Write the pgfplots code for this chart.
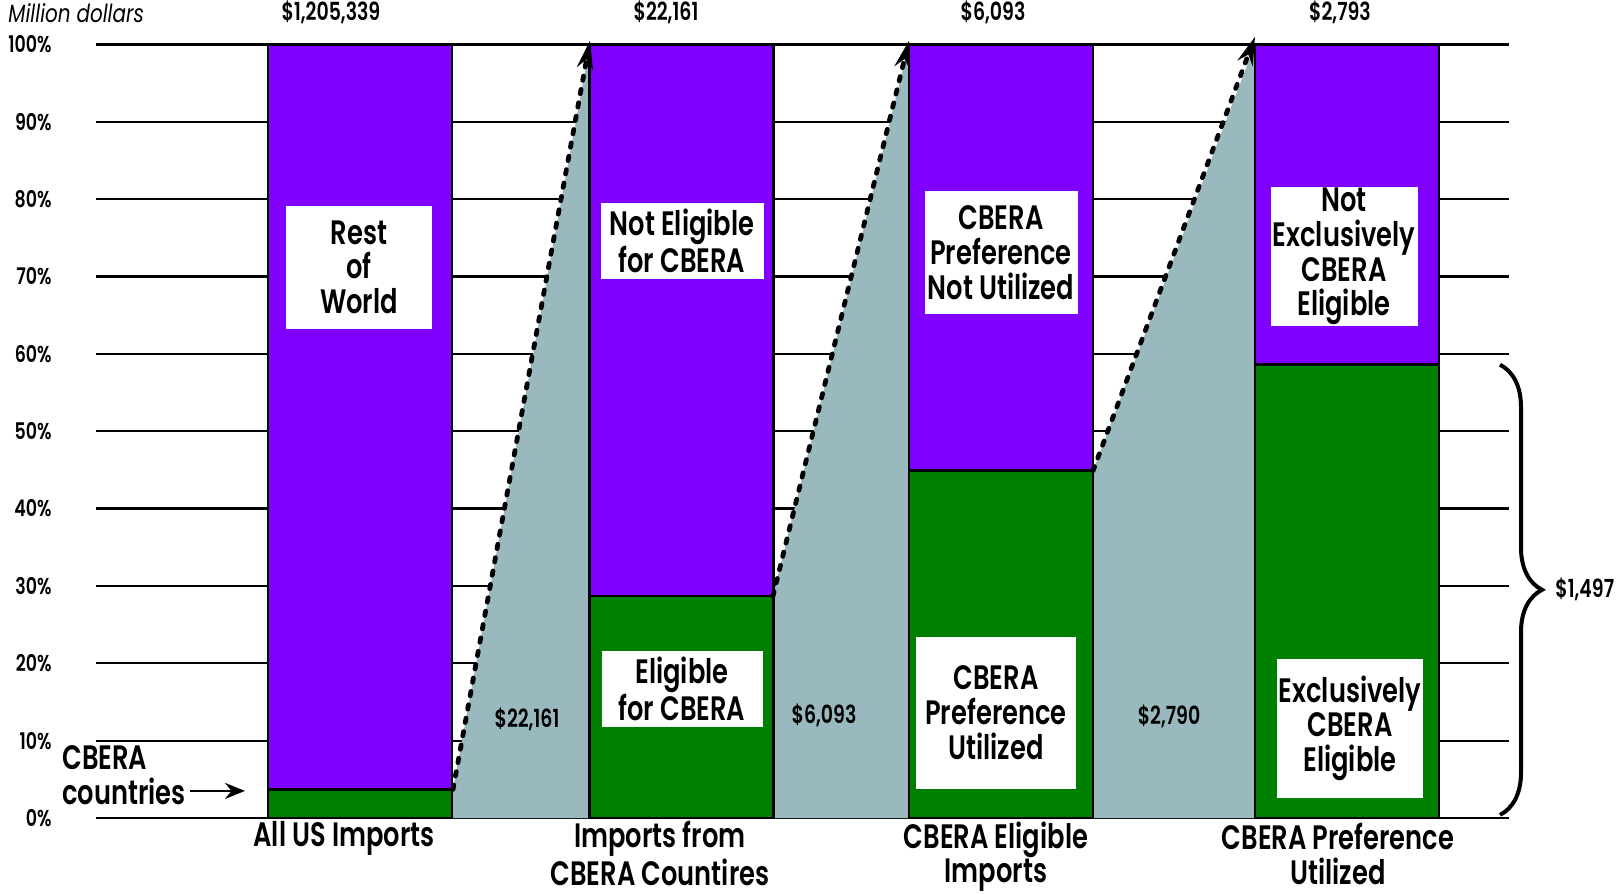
\documentclass[border=0pt]{standalone}
\usepackage{fontspec}
\setmainfont{Poppins SemiBold}[FakeStretch=0.76]
\newfontfamily\plainfam{Poppins}[FakeStretch=0.8]
\usepackage{pgfplots}
\pgfplotsset{compat=1.18}
\usetikzlibrary{arrows.meta,decorations.pathreplacing}

\definecolor{cbpurple}{RGB}{128,0,255}
\definecolor{cbgreen}{RGB}{0,128,0}
\definecolor{cbgrey}{RGB}{153,185,190}

\newcommand{\biglab}{\fontsize{17}{17.5}\selectfont}
\newcommand{\midlab}{\fontsize{12.5}{14}\selectfont}

\begin{document}
\begin{tikzpicture}
\path[use as bounding box] (-48bp,-38bp) rectangle (762.5bp,409bp);
\begin{axis}[
  at={(0,0)}, anchor=south west,
  width=706.5bp, height=386.75bp, scale only axis,
  xmin=96, xmax=1509, ymin=0, ymax=100,
  clip=false,
  axis line style={draw=none},
  xtick=\empty,
  ytick={0,10,...,100},
  yticklabels={0\%,10\%,20\%,30\%,40\%,50\%,60\%,70\%,80\%,90\%,100\%},
  ytick style={draw=none},
  yticklabel style={anchor=east, inner sep=0pt, xshift=-22bp, font=\fontsize{11.5}{12}\selectfont},
  ymajorgrids,
  major grid style={black, line width=1.1bp},
]
% grey flows between the bars
\addplot[fill=cbgrey, draw=none] coordinates {(453,3.7) (590,100)} \closedcycle;
\addplot[fill=cbgrey, draw=none] coordinates {(773,28.7) (909,100)} \closedcycle;
\addplot[fill=cbgrey, draw=none] coordinates {(1093,44.9) (1255,100)} \closedcycle;

% full bars (purple) and CBERA share (green)
\addplot[ybar, bar width=184, bar shift=0pt, fill=cbpurple, draw=black, line width=1.3bp]
  coordinates {(360,100) (681.5,100) (1001,100) (1347,100)};
\addplot[ybar, bar width=184, bar shift=0pt, fill=cbgreen, draw=black, line width=1.3bp]
  coordinates {(360,3.7) (681.5,28.7) (1001,44.9) (1347,58.6)};

% dotted arrows
\addplot[line width=2.4bp, line cap=round, dash pattern=on 2.2bp off 4.6bp,
  -{Stealth[length=14bp, width=8bp]}] coordinates {(453,3.7) (590,100.5)};
\addplot[line width=2.4bp, line cap=round, dash pattern=on 2.2bp off 4.6bp,
  -{Stealth[length=14bp, width=8bp]}] coordinates {(773,28.7) (909,100.5)};
\addplot[line width=2.4bp, line cap=round, dash pattern=on 2.2bp off 4.6bp,
  -{Stealth[length=14bp, width=8bp]}] coordinates {(1093,44.9) (1255,101)};

% labels in boxes
\node[fill=white, minimum width=73bp, minimum height=61.5bp, inner sep=0pt, align=center, font=\biglab]
  at (axis cs:359,71.2) {Rest\\of\\World};
\node[fill=white, minimum width=81.5bp, minimum height=38bp, inner sep=0pt, align=center, font=\biglab]
  at (axis cs:682,74.6) {Not Eligible\\for CBERA};
\node[fill=white, minimum width=76.5bp, minimum height=61.5bp, inner sep=0pt, align=center, font=\biglab]
  at (axis cs:1001,73.1) {CBERA\\Preference\\Not Utilized};
\node[fill=white, minimum width=73.5bp, minimum height=69.5bp, inner sep=0pt, align=center, font=\biglab]
  at (axis cs:1344,72.6) {Not\\Exclusively\\CBERA\\Eligible};
\node[fill=white, minimum width=80.5bp, minimum height=38bp, inner sep=0pt, align=center, font=\biglab]
  at (axis cs:682,16.7) {Eligible\\for CBERA};
\node[fill=white, minimum width=80bp, minimum height=76bp, inner sep=0pt, align=center, font=\biglab]
  at (axis cs:996,13.6) {CBERA\\Preference\\Utilized};
\node[fill=white, minimum width=73bp, minimum height=69.5bp, inner sep=0pt, align=center, font=\biglab]
  at (axis cs:1350,11.6) {Exclusively\\CBERA\\Eligible};

% values in grey flows
\node[font=\midlab] at (axis cs:527,12.7) {\$22,161};
\node[font=\midlab] at (axis cs:824,13.3) {\$6,093};
\node[font=\midlab] at (axis cs:1169,13.1) {\$2,790};

% totals above the bars
\node[font=\midlab] at (axis cs:331,104.1) {\$1,205,339};
\node[font=\midlab] at (axis cs:666,104.1) {\$22,161};
\node[font=\midlab] at (axis cs:993,104.1) {\$6,093};
\node[font=\midlab] at (axis cs:1340,104.1) {\$2,793};
\node[anchor=west, inner sep=0pt, font=\fontsize{12.5}{14}\selectfont\plainfam\itshape] at (axis cs:8,104.1) {Million dollars};

% category labels
\node[align=center, font=\biglab] at (axis cs:344,-2.6) {All US Imports};
\node[align=center, font=\biglab] at (axis cs:660,-4.6) {Imports from\\CBERA Countires};
\node[align=center, font=\biglab] at (axis cs:996,-5.0) {CBERA Eligible\\Imports};
\node[align=center, font=\biglab] at (axis cs:1338,-4.6) {CBERA Preference\\Utilized};

% CBERA countries pointer
\node[anchor=west, align=left, inner sep=0pt, font=\biglab] at (axis cs:62,5.5) {CBERA\\countries};
\draw[line width=1bp, -{Stealth[length=10bp, width=8bp]}] (axis cs:190,3.5) -- (axis cs:245,3.5);

% brace for the utilized share
\draw[decorate, decoration={brace, amplitude=21bp}, line width=2bp]
  (axis cs:1500,58.6) -- (axis cs:1500,0.4);
\node[anchor=west, inner sep=0pt, font=\midlab] at (axis cs:1555,29.5) {\$1,497};
\end{axis}
\end{tikzpicture}
\end{document}
